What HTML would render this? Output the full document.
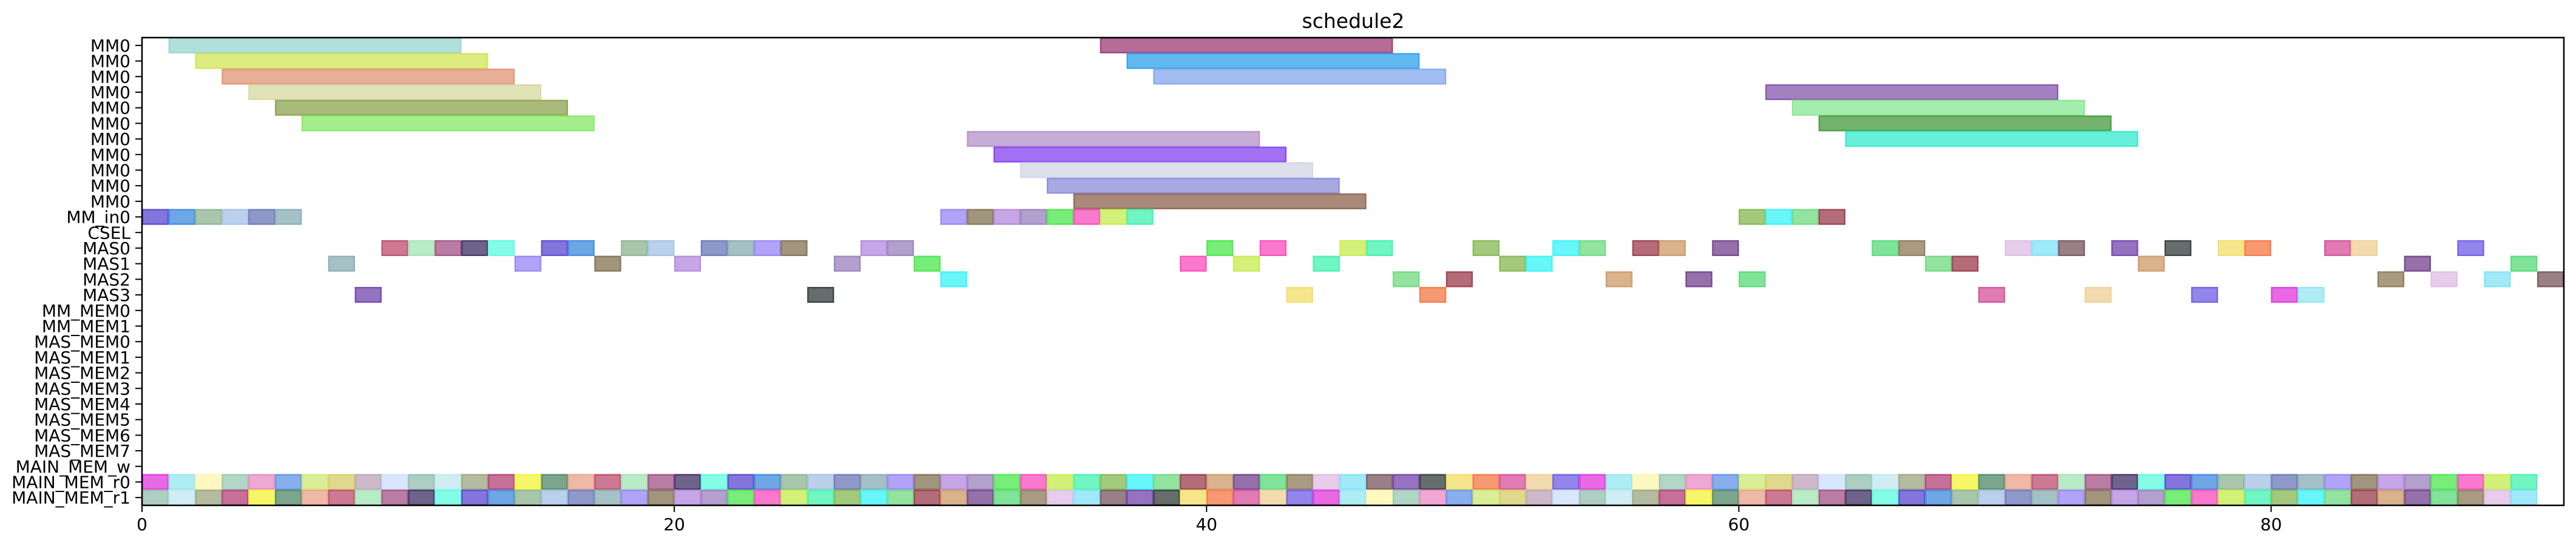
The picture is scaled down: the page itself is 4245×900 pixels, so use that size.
<!DOCTYPE html>
<html><head><meta charset="utf-8"><title>schedule2</title>
<style>
html,body{margin:0;padding:0;background:#fff;}
svg{display:block;font-family:"DejaVu Sans","Liberation Sans",sans-serif;}
</style></head>
<body>
<svg id="chart" width="4245" height="900" viewBox="0 0 4245 900" xmlns="http://www.w3.org/2000/svg">
<text x="2230" y="46" font-size="33" text-anchor="middle" fill="#000">schedule2</text>
<g id="bars"></g>
<g id="yaxis"></g>
<g id="xaxis"></g>
<rect x="234" y="62" width="3991" height="771" fill="none" stroke="#000" stroke-width="2.5"/>
</svg>
<script>
const rowLabels = ["MM0","MM0","MM0","MM0","MM0","MM0","MM0","MM0","MM0","MM0","MM0","MM_in0","CSEL","MAS0","MAS1","MAS2","MAS3","MM_MEM0","MM_MEM1","MAS_MEM0","MAS_MEM1","MAS_MEM2","MAS_MEM3","MAS_MEM4","MAS_MEM5","MAS_MEM6","MAS_MEM7","MAIN_MEM_w","MAIN_MEM_r0","MAIN_MEM_r1"];
const xTicks = [0,20,40,60,80];
const longRows   = [0,1,2,3,4,5, 0,1,2, 6,7,8,9,10, 3,4,5,6];
const longStarts = [1,2,3,4,5,6, 36,37,38, 31,32,33,34,35, 61,62,63,64];
const longEnds   = [12,13,14,15,16,17, 47,48,49, 42,43,44,45,46, 72,73,74,75];
const mmIn0 = [0,1,2,3,4,5,30,31,32,33,34,35,36,37,60,61,62,63];
const mas0 = [9,10,11,12,13,15,16,18,19,21,22,23,24,27,28,40,42,45,46,50,53,54,56,57,59,65,66,70,71,72,74,76,78,79,82,83,87];
const mas1 = [7,14,17,20,26,29,39,41,44,51,52,67,68,75,85,89];
const mas2 = [30,47,49,55,58,60,84,86,88,90];
const mas3 = [8,25,43,48,69,73,77,80,81];
const memR0 = [0,1,2,3,4,5,6,7,8,9,10,11,12,13,14,15,16,17,18,19,20,21,22,23,24,25,26,27,28,29,30,31,32,33,34,35,36,37,38,39,40,41,42,43,44,45,46,47,48,49,50,51,52,53,54,55,56,57,58,59,60,61,62,63,64,65,66,67,68,69,70,71,72,73,74,75,76,77,78,79,80,81,82,83,84,85,86,87,88,89];
const memR1 = [0,1,2,3,4,5,6,7,8,9,10,11,12,13,14,15,16,17,18,19,20,21,22,23,24,25,26,27,28,29,30,31,32,33,34,35,36,37,38,39,40,41,42,43,44,45,46,47,48,49,50,51,52,53,54,55,56,57,58,59,60,61,62,63,64,65,66,67,68,69,70,71,72,73,74,75,76,77,78,79,80,81,82,83,84,85,86,87,88,89];
const blockDur = 1;

const longColors = ["#9ed8d3","#d4e660","#e29a7c","#dadba6","#93a858","#8ee870","#a2487e","#3aa8ec","#8aacee","#b898cc","#8c4cf0","#d4d8e6","#9292dc","#946c58","#8c60b0","#8ee898","#50a048","#40ecd0"];
const pal = ["#a9c4e6","#fff6b0","#f857c0","#99c2b2","#7a4c94","#a8e6b8","#f2e070","#7380bc","#9fcab6","#c8ee58","#c4e8f0","#62dc80","#a85c8c","#f48050","#8eb2b8","#ea92c8","#4ef2b4","#a2aa88","#948262","#4a3c6c","#d85aa0","#9c8cf6","#6a9ae8","#8cbc5c","#b84c80","#e0c0e6","#66fce0","#f0d29c","#8a7a5c","#d0ea7c","#44f4f8","#f4f444","#88e4f8","#6452d2","#7866e6","#b890e0","#d8d070","#78dc88","#5a9070","#806068","#4a90e0","#e244dc","#a088c0","#c0a8bc","#a04858","#eaa890","#7a50b0","#94b898","#98e8f0","#56e858","#d0e0ff","#d0a070","#c05878","#404848"];
const xScale = v => 234 + v * (3991 / 91);
const rowTop = i => 62 + i * (771 / 30);
const rowH = 771 / 30;
const NS = "http://www.w3.org/2000/svg";
const barsG = document.getElementById('bars');

function addRect(x0, x1, row, color, name) {
  const r = document.createElementNS(NS, 'rect');
  r.setAttribute('x', xScale(x0) + 1);
  r.setAttribute('y', rowTop(row) + 1);
  r.setAttribute('width', xScale(x1) - xScale(x0) - 2);
  r.setAttribute('height', rowH - 2);
  r.setAttribute('fill', color);
  r.setAttribute('fill-opacity', '0.8');
  r.setAttribute('stroke', color);
  r.setAttribute('stroke-width', '2.5');
  
  
  barsG.appendChild(r);
}

for (let i = 0; i < longRows.length; i++) {
  addRect(longStarts[i], longEnds[i], longRows[i], longColors[i], 'mm0-task-bar');
}
const blockRows = [[11, mmIn0], [13, mas0], [14, mas1], [15, mas2], [16, mas3], [28, memR0], [29, memR1]];
blockRows.forEach(([row, arr], ri) => {
  arr.forEach((s, k) => {
    const c = pal[(k * 7 + ri * 13 + row * 3) % pal.length];
    addRect(s, s + blockDur, row, c, 'task-block');
  });
});

const yG = document.getElementById('yaxis');
rowLabels.forEach((lab, i) => {
  const cy = rowTop(i) + rowH / 2;
  const t = document.createElementNS(NS, 'line');
  t.setAttribute('x1', 223); t.setAttribute('x2', 234);
  t.setAttribute('y1', cy); t.setAttribute('y2', cy);
  t.setAttribute('stroke', '#000'); t.setAttribute('stroke-width', '2');
  
  
  yG.appendChild(t);
  const tx = document.createElementNS(NS, 'text');
  tx.setAttribute('x', 215); tx.setAttribute('y', cy + 10);
  tx.setAttribute('font-size', '28'); tx.setAttribute('text-anchor', 'end');
  tx.textContent = lab;
  
  
  yG.appendChild(tx);
});

const xG = document.getElementById('xaxis');
xTicks.forEach(v => {
  const x = xScale(v);
  const t = document.createElementNS(NS, 'line');
  t.setAttribute('x1', x); t.setAttribute('x2', x);
  t.setAttribute('y1', 833); t.setAttribute('y2', 844);
  t.setAttribute('stroke', '#000'); t.setAttribute('stroke-width', '2');
  
  
  xG.appendChild(t);
  const tx = document.createElementNS(NS, 'text');
  tx.setAttribute('x', x); tx.setAttribute('y', 874);
  tx.setAttribute('font-size', '28'); tx.setAttribute('text-anchor', 'middle');
  tx.textContent = String(v);
  
  
  xG.appendChild(tx);
});
</script>
</body></html>
